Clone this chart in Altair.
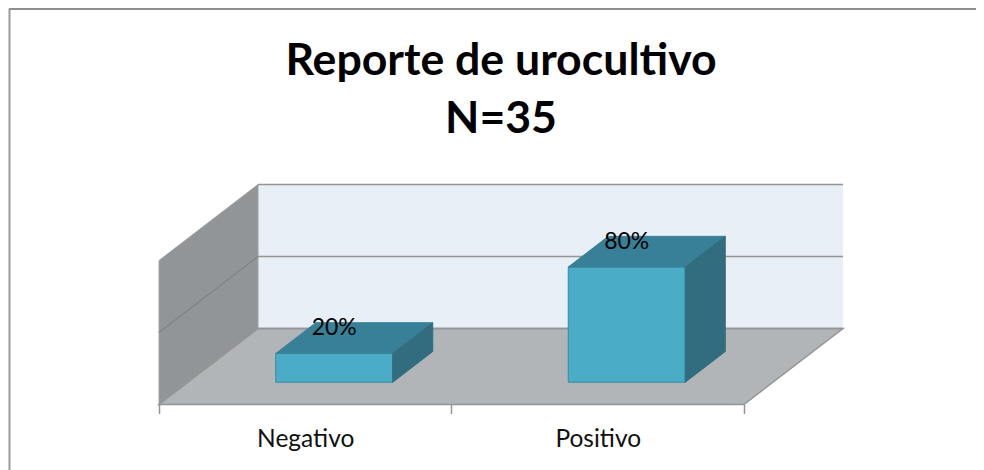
import altair as alt
import pandas as pd

# Chart content
title_lines = ["Reporte de urocultivo", "N=35"]
categories = ["Negativo", "Positivo"]
values = [20, 80]
labels = ["20%", "80%"]
gridlines = [0, 50, 100]

# Oblique projection parameters (category units, percent units)
DX = 0.3385
DY = 52.8
CAT_MAX = 2
VAL_MAX = 100
BAR_LO, BAR_HI = 0.30, 0.70
D_FRONT, D_BACK = 0.293, 0.697

X_DOMAIN = [0, CAT_MAX + DX]
Y_DOMAIN = [0, VAL_MAX + DY]
xs = alt.Scale(domain=X_DOMAIN, nice=False, zero=False)
ys = alt.Scale(domain=Y_DOMAIN, nice=False, zero=False)


def px(c, d):
    return c + d * DX


def py(v, d):
    return v + d * DY


WALL_LINE = "#959595"

x_axis = alt.Axis(
    values=[0, 0.5, 1, 1.5, 2], grid=False, domain=False, title=None, orient="bottom",
    labelExpr="datum.value==0.5?'%s':datum.value==1.5?'%s':''" % tuple(categories),
    labelFont="Lato", labelFontSize=24.5, labelColor="#111111", labelPadding=14, labelAngle=0,
    labelFlush=False, labelOverlap=False,
    tickSize=9, tickColor=WALL_LINE, tickWidth=1.5,
    tickOpacity={"condition": {"test": "datum.value==0.5||datum.value==1.5", "value": 0}, "value": 1},
)
X = alt.X("x:Q", scale=xs, axis=x_axis)
Y = alt.Y("y:Q", scale=ys, axis=None)

# Walls
back_wall = pd.DataFrame({"x": [px(0, 1), px(CAT_MAX, 1)], "y": [py(0, 1)] * 2, "y2": [py(VAL_MAX, 1)] * 2})
left_wall = pd.DataFrame({"x": [px(0, 0), px(0, 1)], "y": [py(0, 0), py(0, 1)], "y2": [py(VAL_MAX, 0), py(VAL_MAX, 1)]})
floor = pd.DataFrame({"y": [py(0, 0), py(0, 1)], "x": [px(0, 0), px(0, 1)], "x2": [px(CAT_MAX, 0), px(CAT_MAX, 1)]})

back_layer = alt.Chart(back_wall).mark_area(color="#e8eff6", interpolate="linear").encode(x=X, y=Y, y2="y2:Q")
left_layer = alt.Chart(left_wall).mark_area(color="#929598", interpolate="linear", stroke="#a0a2a4", strokeWidth=1).encode(
    x=X, y=Y, y2="y2:Q")
floor_layer = alt.Chart(floor).mark_area(color="#b1b5b8", orient="horizontal", interpolate="linear", stroke=WALL_LINE, strokeWidth=1.5).encode(
    y=Y, x=X, x2="x2:Q")

# Gridlines: along the back wall and the left wall
back_grid = pd.DataFrame({"x": [px(0, 1)] * len(gridlines), "x2": [px(CAT_MAX, 1)] * len(gridlines),
                          "y": [py(v, 1) for v in gridlines]})
grid_back_layer = alt.Chart(back_grid).mark_rule(color=WALL_LINE, strokeWidth=1.5).encode(x=X, x2="x2:Q", y=Y)
side_rows = []
for v in gridlines[1:2]:
    side_rows += [{"g": v, "x": px(0, 0), "y": py(v, 0)}, {"g": v, "x": px(0, 1), "y": py(v, 1)}]
grid_side_layer = alt.Chart(pd.DataFrame(side_rows)).mark_line(color="#808284", strokeWidth=1.2).encode(
    x=X, y=Y, detail="g:N")

# Bars
front_rows, top_rows, side_rows2, label_rows = [], [], [], []
for i, (v, lab) in enumerate(zip(values, labels)):
    lo, hi = i + BAR_LO, i + BAR_HI
    front_rows.append({"x": px(lo, D_FRONT), "x2": px(hi, D_FRONT), "y": py(0, D_FRONT), "y2": py(v, D_FRONT)})
    top_rows += [
        {"b": i, "y": py(v, D_FRONT), "x": px(lo, D_FRONT), "x2": px(hi, D_FRONT)},
        {"b": i, "y": py(v, D_BACK), "x": px(lo, D_BACK), "x2": px(hi, D_BACK)},
    ]
    side_rows2 += [
        {"b": i, "x": px(hi, D_FRONT), "y": py(0, D_FRONT), "y2": py(v, D_FRONT)},
        {"b": i, "x": px(hi, D_BACK), "y": py(0, D_BACK), "y2": py(v, D_BACK)},
    ]
    label_rows.append({"x": px(i + 0.5, D_FRONT), "y": py(v, D_FRONT), "t": lab})

front_layer = alt.Chart(pd.DataFrame(front_rows)).mark_rect(color="#4aacc7", stroke="#3a8aa2", strokeWidth=1).encode(
    x=X, x2="x2:Q", y=Y, y2="y2:Q")
top_layer = alt.Chart(pd.DataFrame(top_rows)).mark_area(color="#388097", orient="horizontal", interpolate="linear", stroke="#3a8299", strokeWidth=1).encode(
    y=Y, x=X, x2="x2:Q", detail="b:N")
side_layer = alt.Chart(pd.DataFrame(side_rows2)).mark_area(color="#316d7e", interpolate="linear", stroke="#316d7e", strokeWidth=1).encode(
    x=X, y=Y, y2="y2:Q", detail="b:N")
label_layer = alt.Chart(pd.DataFrame(label_rows)).mark_text(
    font="Lato", fontSize=23, color="#000000", dy=-25, align="center", baseline="middle"
).encode(x=X, y=Y, text="t:N")

# Outer frame: top and left edges only
frame_top = alt.Chart(pd.DataFrame({"k": [0]})).mark_rule(color="#8f8f8f", strokeWidth=2, clip=False).encode(
    x=alt.value(-150), x2=alt.value(826), y=alt.value(-175.5))
frame_left = alt.Chart(pd.DataFrame({"k": [0]})).mark_rule(color="#9a9a9a", strokeWidth=2, clip=False).encode(
    x=alt.value(-149.5), y=alt.value(-176), y2=alt.value(286))

chart = alt.layer(
    back_layer, left_layer, floor_layer, grid_back_layer, grid_side_layer,
    front_layer, top_layer, side_layer, label_layer, frame_top, frame_left,
).properties(
    width=684, height=220,
    padding={"left": 151, "top": 176.5, "right": 133, "bottom": 65.5},
    autosize=alt.AutoSizeParams(type="none"),
    background="#ffffff",
    title=alt.TitleParams(text=title_lines, font="Lato", fontSize=44.6, fontWeight="bold", color="#000000",
                          lineHeight=58, anchor="middle", offset=-135),
).configure_view(stroke=None)

chart.save("out.html", embed_options={"renderer": "svg", "actions": False})
